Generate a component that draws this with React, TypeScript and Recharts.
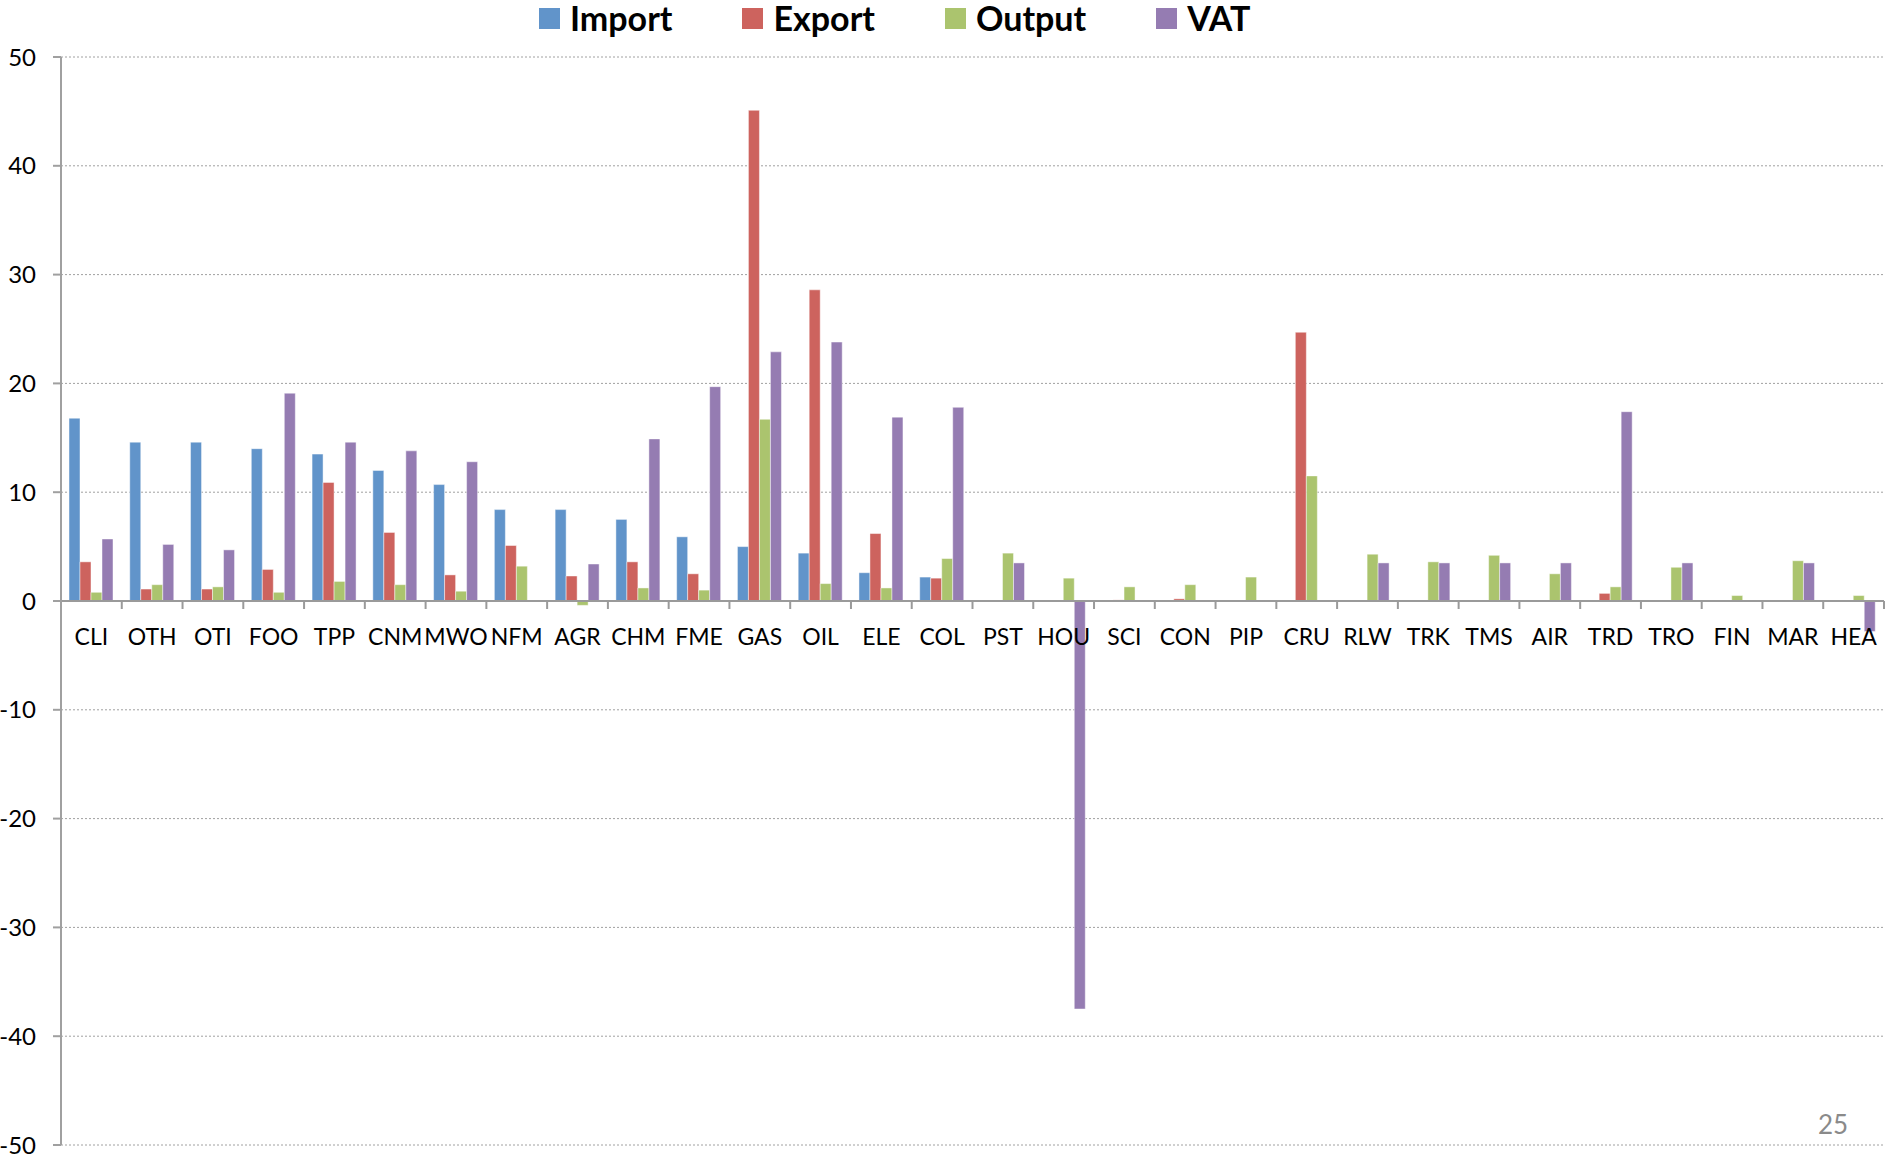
import React from 'react';
import { BarChart, Bar, XAxis, YAxis, CartesianGrid, ReferenceLine } from 'recharts';

const categories = [
    'CLI', 'OTH', 'OTI', 'FOO', 'TPP', 'CNM', 'MWO', 'NFM', 'AGR', 'CHM',
    'FME', 'GAS', 'OIL', 'ELE', 'COL', 'PST', 'HOU', 'SCI', 'CON', 'PIP',
    'CRU', 'RLW', 'TRK', 'TMS', 'AIR', 'TRD', 'TRO', 'FIN', 'MAR', 'HEA',
];

const importVals = [
    16.8, 14.6, 14.6, 14.0, 13.5, 12.0, 10.7, 8.4, 8.4, 7.5,
    5.9, 5.0, 4.4, 2.6, 2.2, null, null, null, null, null,
    null, null, null, null, null, null, null, null, null, null,
];
const exportVals = [
    3.6, 1.1, 1.1, 2.9, 10.9, 6.3, 2.4, 5.1, 2.3, 3.6,
    2.5, 45.1, 28.6, 6.2, 2.1, null, null, 0.1, 0.2, null,
    24.7, null, null, null, null, 0.7, null, null, null, 0.05,
];
const outputVals = [
    0.8, 1.5, 1.3, 0.8, 1.8, 1.5, 0.9, 3.2, -0.4, 1.2,
    1.0, 16.7, 1.6, 1.2, 3.9, 4.4, 2.1, 1.3, 1.5, 2.2,
    11.5, 4.3, 3.6, 4.2, 2.5, 1.3, 3.1, 0.5, 3.7, 0.5,
];
const vatVals = [
    5.7, 5.2, 4.7, 19.1, 14.6, 13.8, 12.8, null, 3.4, 14.9,
    19.7, 22.9, 23.8, 16.9, 17.8, 3.5, -37.5, null, null, null,
    null, 3.5, 3.5, 3.5, 3.5, 17.4, 3.5, null, 3.5, -2.8,
];

const yTicks = [-50, -40, -30, -20, -10, 0, 10, 20, 30, 40, 50];

const SERIES = [
    { key: 'import', name: 'Import', color: '#6194CA' },
    { key: 'export', name: 'Export', color: '#CD635E' },
    { key: 'output', name: 'Output', color: '#ABC46E' },
    { key: 'vat', name: 'VAT', color: '#957CB2' },
];

const W = 1886;
const H = 1158;
const X_AXIS_H = 20;
const MARGIN = { top: 57, right: 2, left: 0, bottom: 13 - X_AXIS_H };
const Y_AXIS_W = 61;
const Y_MIN = -50;
const Y_MAX = 50;
const PLOT_W = W - MARGIN.left - MARGIN.right - Y_AXIS_W;
const PLOT_H = H - MARGIN.top - MARGIN.bottom - X_AXIS_H;
const BAND = PLOT_W / categories.length;
const ZERO_Y = MARGIN.top + PLOT_H * (Y_MAX / (Y_MAX - Y_MIN));

const data = categories.map((cat, i) => ({
    cat,
    import: importVals[i],
    export: exportVals[i],
    output: outputVals[i],
    vat: vatVals[i],
}));

// category labels sit just under the zero line, with a divider tick on each band edge
function CategoryTick(props: any) {
    const { x, payload } = props;
    const edge = x + BAND / 2;
    return (
        <g>
            <line x1={edge} x2={edge} y1={ZERO_Y} y2={ZERO_Y + 8} stroke="#9a9a9a" strokeWidth={2} />
            <text x={x} y={ZERO_Y + 44} textAnchor="middle" fontSize={23} fill="#000" fontFamily="Lato, sans-serif">
                {payload.value}
            </text>
        </g>
    );
}

function Legend() {
    return (
        <div style={{ position: 'absolute', left: 539, top: 0, height: 36, display: 'flex', alignItems: 'center' }}>
            {SERIES.map((s) => (
                <div key={s.key} style={{ display: 'flex', alignItems: 'center', marginRight: 70 }}>
                    <span style={{ width: 21, height: 21, background: s.color, display: 'inline-block', marginRight: 10 }} />
                    <span style={{ fontFamily: 'Lato, sans-serif', fontWeight: 700, fontSize: 34, lineHeight: '36px', color: '#000' }}>
                        {s.name}
                    </span>
                </div>
            ))}
        </div>
    );
}

export default function App() {
    return (
        <div style={{ position: 'absolute', left: 0, top: 0, width: W, height: H, background: '#fff', fontFamily: 'Lato, sans-serif' }}>
            <BarChart width={W} height={H} data={data} margin={MARGIN} barSize={11} barGap={0}>
                <CartesianGrid vertical={false} stroke="#a0a0a0" strokeDasharray="2 2" />
                <XAxis
                    dataKey="cat"
                    height={X_AXIS_H}
                    interval={0}
                    axisLine={false}
                    tickLine={false}
                    tick={(p: any) => <CategoryTick {...p} />}
                />
                <YAxis
                    type="number"
                    width={Y_AXIS_W}
                    domain={[Y_MIN, Y_MAX]}
                    ticks={yTicks}
                    interval={0}
                    allowDataOverflow
                    axisLine={{ stroke: '#a0a0a0', strokeWidth: 2 }}
                    tickLine={{ stroke: '#a0a0a0', strokeWidth: 2 }}
                    tickSize={8}
                    tickMargin={17}
                    tick={{ fontSize: 24, fill: '#000', fontFamily: 'Lato, sans-serif' }}
                />
                {SERIES.map((s) => (
                    <Bar
                        key={s.key}
                        dataKey={s.key}
                        name={s.name}
                        fill={s.color}
                        stroke="rgba(255,255,255,0.45)"
                        strokeWidth={1}
                        isAnimationActive={false}
                    />
                ))}
                <ReferenceLine y={0} stroke="#9a9a9a" strokeWidth={2} />
            </BarChart>
            <Legend />
            <div style={{ position: 'absolute', left: 1818, top: 1108, fontSize: 26, color: '#8a8a8a', fontFamily: 'Lato, sans-serif' }}>
                25
            </div>
        </div>
    );
}
